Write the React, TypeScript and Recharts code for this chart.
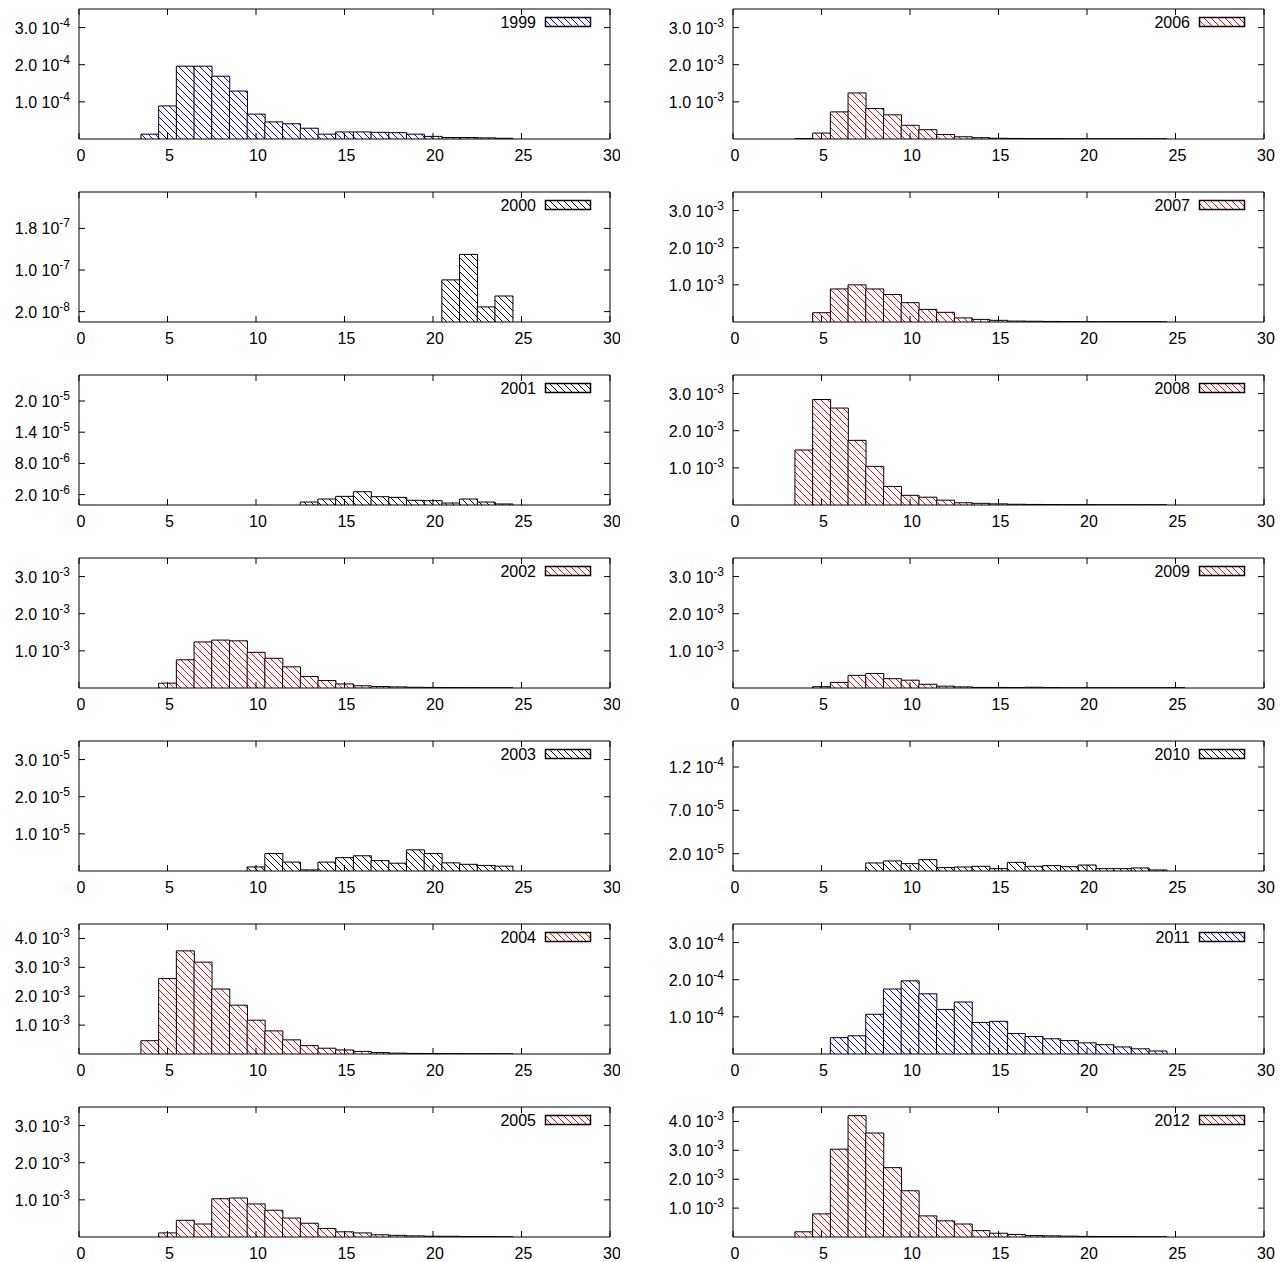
import React from 'react';
import { BarChart, Bar, XAxis, YAxis, ReferenceArea } from 'recharts';

// histogram bins are centred on integers, values start at `first`
const xTicks = [0, 5, 10, 15, 20, 25, 30];

const v1999 = [1.3e-5, 8.9e-5, 1.96e-4, 1.96e-4, 1.69e-4, 1.29e-4, 6.7e-5, 4.6e-5, 4.1e-5, 2.9e-5, 1.3e-5, 1.9e-5, 1.9e-5, 1.8e-5, 1.7e-5, 1.3e-5, 7e-6, 4e-6, 4e-6, 3e-6, 2e-6];
const v2000 = [8.1e-8, 1.3e-7, 2.9e-8, 5.0e-8];
const v2001 = [5.7e-7, 1.15e-6, 1.66e-6, 2.55e-6, 1.6e-6, 1.47e-6, 9e-7, 8.3e-7, 3.8e-7, 1.15e-6, 5.7e-7, 2e-7];
const v2002 = [1.3e-4, 7.6e-4, 1.24e-3, 1.29e-3, 1.27e-3, 9.6e-4, 8.0e-4, 5.7e-4, 3.1e-4, 2.0e-4, 1.1e-4, 6e-5, 4e-5, 3e-5, 2e-5, 1.5e-5, 1e-5, 8e-6, 5e-6, 3e-6];
const v2003 = [1.1e-6, 4.7e-6, 2.4e-6, 3e-7, 2.4e-6, 3.6e-6, 4.1e-6, 2.8e-6, 2.1e-6, 5.7e-6, 4.7e-6, 2.2e-6, 1.8e-6, 1.5e-6, 1.3e-6];
const v2004 = [4.6e-4, 2.61e-3, 3.57e-3, 3.18e-3, 2.25e-3, 1.69e-3, 1.17e-3, 8.0e-4, 4.9e-4, 2.9e-4, 2.0e-4, 1.4e-4, 9e-5, 5e-5, 3e-5, 2e-5, 1.5e-5, 1e-5, 8e-6, 5e-6, 3e-6];
const v2005 = [1.1e-4, 4.5e-4, 3.5e-4, 1.03e-3, 1.05e-3, 8.9e-4, 7.2e-4, 5.1e-4, 3.7e-4, 2.3e-4, 1.4e-4, 1.1e-4, 6e-5, 4.5e-5, 3e-5, 2e-5, 2e-5, 1e-5, 8e-6, 5e-6];
const v2006 = [1e-5, 1.6e-4, 7.3e-4, 1.24e-3, 8.2e-4, 6.5e-4, 3.7e-4, 2.5e-4, 1.2e-4, 6e-5, 3.5e-5, 2e-5, 1.5e-5, 1e-5, 8e-6, 6e-6, 5e-6, 4e-6, 3e-6, 2e-6, 2e-6];
const v2007 = [2.5e-4, 8.9e-4, 1.0e-3, 8.9e-4, 7.4e-4, 5.2e-4, 3.4e-4, 2.6e-4, 1.1e-4, 7e-5, 4.5e-5, 2.5e-5, 2e-5, 1.5e-5, 1e-5, 8e-6, 6e-6, 5e-6, 4e-6, 3e-6];
const v2008 = [1.48e-3, 2.84e-3, 2.61e-3, 1.74e-3, 1.04e-3, 5.0e-4, 2.6e-4, 2.1e-4, 1.3e-4, 6e-5, 4.5e-5, 3e-5, 2e-5, 1.5e-5, 1.2e-5, 1e-5, 8e-6, 6e-6, 5e-6, 4e-6, 3e-6];
const v2009 = [3.5e-5, 1.5e-4, 3.4e-4, 3.9e-4, 2.5e-4, 2.1e-4, 1.0e-4, 5e-5, 3e-5, 1.5e-5, 1.5e-5, 1e-5, 2e-5, 1e-5, 5e-6, 5e-6, 5e-6, 4e-6, 4e-6, 3e-6, 8e-6];
const v2010 = [9.3e-6, 1.16e-5, 8.5e-6, 1.31e-5, 3.9e-6, 4.6e-6, 5.4e-6, 2.7e-6, 1.0e-5, 5.4e-6, 6.2e-6, 5.0e-6, 6.9e-6, 2.7e-6, 2.7e-6, 3.5e-6, 1.2e-6];
const v2011 = [4.4e-5, 4.9e-5, 1.07e-4, 1.75e-4, 1.97e-4, 1.62e-4, 1.2e-4, 1.4e-4, 8.5e-5, 8.8e-5, 5.5e-5, 4.7e-5, 4.1e-5, 3.6e-5, 3.0e-5, 2.5e-5, 1.9e-5, 1.4e-5, 8e-6];
const v2012 = [1.8e-4, 8.0e-4, 3.04e-3, 4.2e-3, 3.6e-3, 2.4e-3, 1.6e-3, 7.3e-4, 5.6e-4, 4.5e-4, 2.2e-4, 1.3e-4, 9e-5, 5e-5, 4e-5, 3e-5, 2e-5, 1.5e-5, 1e-5, 8e-6, 5e-6];

const ticksE3 = [1e-3, 2e-3, 3e-3];
const ticksE3b = [1e-3, 2e-3, 3e-3, 4e-3];
const ticksE4 = [1e-4, 2e-4, 3e-4];
const ticks2000 = [2e-8, 1e-7, 1.8e-7];
const ticks2001 = [2e-6, 8e-6, 1.4e-5, 2e-5];
const ticks2003 = [1e-5, 2e-5, 3e-5];
const ticks2010 = [2e-5, 7e-5, 1.2e-4];

const leftPanels = [
  { year: '1999', first: 4, values: v1999, yMax: 3.5e-4, ticks: ticksE4, color: 'blue' },
  { year: '2000', first: 21, values: v2000, yMax: 2.5e-7, ticks: ticks2000, color: 'black' },
  { year: '2001', first: 13, values: v2001, yMax: 2.5e-5, ticks: ticks2001, color: 'black' },
  { year: '2002', first: 5, values: v2002, yMax: 3.5e-3, ticks: ticksE3, color: 'red' },
  { year: '2003', first: 10, values: v2003, yMax: 3.5e-5, ticks: ticks2003, color: 'black' },
  { year: '2004', first: 4, values: v2004, yMax: 4.5e-3, ticks: ticksE3b, color: 'red' },
  { year: '2005', first: 5, values: v2005, yMax: 3.5e-3, ticks: ticksE3, color: 'red' },
];
const rightPanels = [
  { year: '2006', first: 4, values: v2006, yMax: 3.5e-3, ticks: ticksE3, color: 'red' },
  { year: '2007', first: 5, values: v2007, yMax: 3.5e-3, ticks: ticksE3, color: 'red' },
  { year: '2008', first: 4, values: v2008, yMax: 3.5e-3, ticks: ticksE3, color: 'red' },
  { year: '2009', first: 5, values: v2009, yMax: 3.5e-3, ticks: ticksE3, color: 'red' },
  { year: '2010', first: 8, values: v2010, yMax: 1.5e-4, ticks: ticks2010, color: 'black' },
  { year: '2011', first: 6, values: v2011, yMax: 3.5e-4, ticks: ticksE4, color: 'blue' },
  { year: '2012', first: 4, values: v2012, yMax: 4.5e-3, ticks: ticksE3b, color: 'red' },
];

const HATCH: Record<string, string> = { red: '#ff0000', blue: '#0000ff', black: '#000000' };
const PLOT_W = 531;
const PLOT_H = 130;
const AXIS_W = 79;
const ROW_STEP = 183;
const FONT = '"Liberation Sans", Arial, Helvetica, sans-serif';

function sci(v: number) {
  const e = Math.floor(Math.log10(v) + 1e-9);
  const m = (v / Math.pow(10, e)).toFixed(1);
  return { m, e: String(e) };
}

const XTick = (props: any) => {
  const { x, y, payload } = props;
  return (
    <g>
      <line x1={x} y1={y} x2={x} y2={y - 6} stroke="#000" />
      <line x1={x} y1={y - PLOT_H} x2={x} y2={y - PLOT_H + 6} stroke="#000" />
      <text x={x + 2} y={y + 22} textAnchor="middle" fontSize={16} fill="#000" fontFamily={FONT}>
        {payload.value}
      </text>
    </g>
  );
};

const YTick = (props: any) => {
  const { x, y, payload } = props;
  const { m, e } = sci(payload.value);
  return (
    <g>
      <line x1={x} y1={y} x2={x + 6} y2={y} stroke="#000" />
      <line x1={x + PLOT_W} y1={y} x2={x + PLOT_W - 6} y2={y} stroke="#000" />
      <text x={x - 9} y={y + 6} textAnchor="end" fontSize={16} fill="#000" fontFamily={FONT}>
        {m} 10<tspan dy={-7} fontSize={12}>{e}</tspan>
      </text>
    </g>
  );
};

function Panel({ p, left, top, width }: any) {
  const data = p.values.map((v: number, i: number) => ({ x: p.first + i, y: v }));
  return (
    <div style={{ position: 'absolute', left, top, width, height: 175 }}>
      <BarChart
        width={width}
        height={175}
        data={data}
        margin={{ top: 9, right: width - AXIS_W - PLOT_W, left: 0, bottom: 6 }}
        barCategoryGap={0}
        barGap={0}
      >
        <XAxis
          dataKey="x"
          type="number"
          domain={[0, 30]}
          ticks={xTicks}
          interval={0}
          allowDataOverflow
          axisLine={false}
          tickLine={false}
          tickSize={0}
          tickMargin={0}
          height={30}
          tick={<XTick />}
        />
        <YAxis
          type="number"
          domain={[0, p.yMax]}
          ticks={p.ticks}
          interval={0}
          allowDataOverflow
          axisLine={false}
          tickLine={false}
          tickSize={0}
          tickMargin={0}
          width={AXIS_W}
          tick={<YTick />}
        />
        <Bar
          dataKey="y"
          fill={`url(#hatch-${p.color})`}
          stroke="#000"
          strokeWidth={1}
          isAnimationActive={false}
        />
        <ReferenceArea x1={0} x2={30} y1={0} y2={p.yMax} fill="none" stroke="#000" strokeWidth={1} fillOpacity={0} />
      </BarChart>
      <svg width={width} height={40} style={{ position: 'absolute', left: 0, top: 0, pointerEvents: 'none' }}>
        <text x={AXIS_W + PLOT_W - 74} y={28} textAnchor="end" fontSize={16} fill="#000" fontFamily={FONT}>
          {p.year}
        </text>
        <rect
          x={AXIS_W + PLOT_W - 64.5}
          y={17.5}
          width={45}
          height={9}
          fill={`url(#hatch-${p.color})`}
          stroke="#000"
          strokeWidth={1.5}
        />
      </svg>
    </div>
  );
}

export default function App() {
  return (
    <div style={{ position: 'absolute', left: 0, top: 0, width: 1284, height: 1262, background: '#fff', fontFamily: FONT }}>
      <svg width={0} height={0} style={{ position: 'absolute' }}>
        <defs>
          {Object.keys(HATCH).map((c) => (
            <pattern key={c} id={`hatch-${c}`} patternUnits="userSpaceOnUse" width={7} height={7}>
              <rect width={7} height={7} fill="#fff" />
              <path d="M-1,-1 L8,8 M-1,6 L1,8 M6,-1 L8,1" stroke={HATCH[c]} strokeWidth={1} />
            </pattern>
          ))}
        </defs>
      </svg>
      {leftPanels.map((p, i) => (
        <Panel key={p.year} p={p} left={0} top={i * ROW_STEP} width={620} />
      ))}
      {rightPanels.map((p, i) => (
        <Panel key={p.year} p={p} left={654} top={i * ROW_STEP} width={630} />
      ))}
    </div>
  );
}
